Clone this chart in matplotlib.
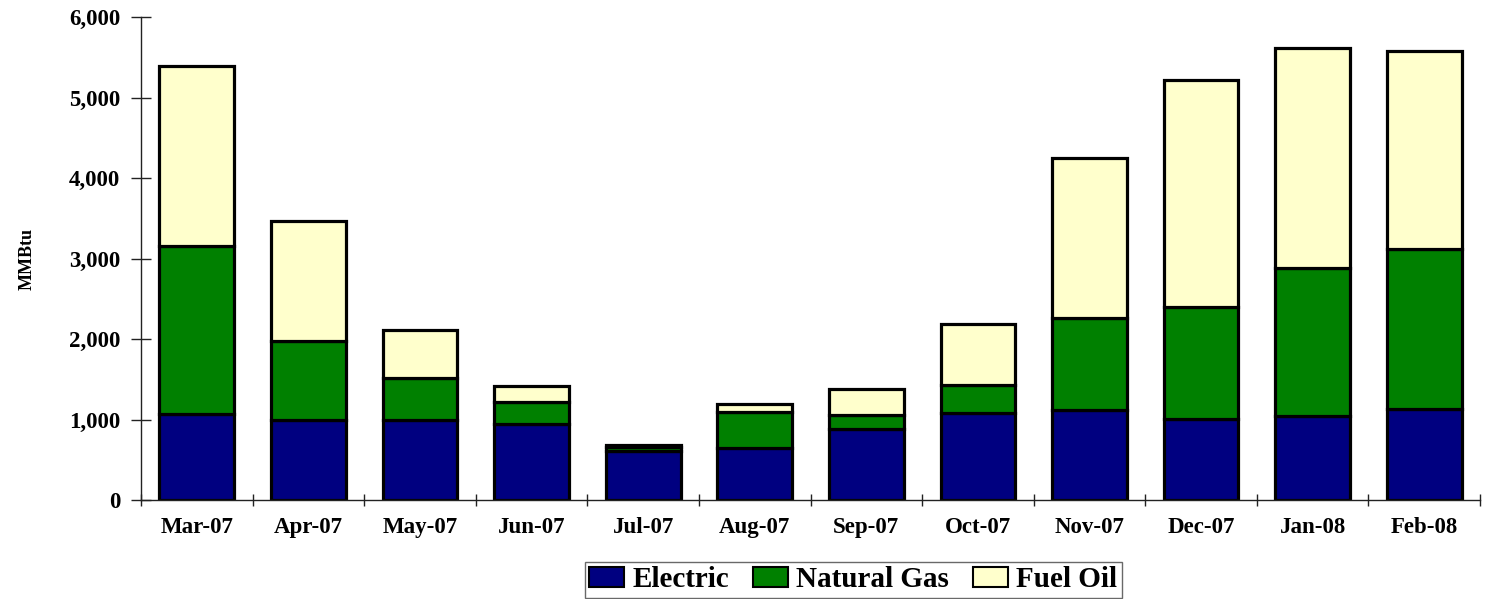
import matplotlib
matplotlib.use("Agg")
import matplotlib.pyplot as plt
from matplotlib.ticker import FuncFormatter, FixedLocator
import numpy as np

months = ["Mar-07", "Apr-07", "May-07", "Jun-07", "Jul-07", "Aug-07",
          "Sep-07", "Oct-07", "Nov-07", "Dec-07", "Jan-08", "Feb-08"]
electric = [1070, 995, 990, 948, 615, 650, 882, 1077, 1114, 1010, 1043, 1134]
natural_gas = [2085, 980, 526, 266, 45, 439, 174, 352, 1147, 1388, 1839, 1984]
fuel_oil = [2232, 1491, 592, 202, 25, 100, 329, 757, 1992, 2815, 2733, 2460]

serif = "Liberation Serif"

fig = plt.figure(figsize=(14.89, 5.99), dpi=100)
ax = fig.add_axes([0.0947, 0.165, 0.8993, 0.8066])

x = np.arange(len(months))
w = 0.67
e = np.array(electric)
g = np.array(natural_gas)
o = np.array(fuel_oil)
ax.bar(x, e, w, color="#000080", edgecolor="black", linewidth=2.3, label="Electric")
ax.bar(x, g, w, bottom=e, color="#008000", edgecolor="black", linewidth=2.3, label="Natural Gas")
ax.bar(x, o, w, bottom=e + g, color="#FFFFCC", edgecolor="black", linewidth=2.3, label="Fuel Oil")

ax.set_xlim(-0.5, len(months) - 0.5)
ax.set_ylim(0, 6000)
ax.set_yticks(range(0, 6001, 1000))
ax.yaxis.set_major_formatter(FuncFormatter(lambda v, p: f"{int(v):,}"))
ax.set_xticks(x)
ax.set_xticklabels(months)
ax.xaxis.set_minor_locator(FixedLocator(np.arange(-0.5, len(months), 1.0)))

for s in ["top", "right"]:
    ax.spines[s].set_visible(False)
for s in ["left", "bottom"]:
    ax.spines[s].set_linewidth(1.0)
    ax.spines[s].set_color("#222222")

ax.tick_params(axis="y", direction="inout", length=14, width=1, color="#222222", pad=8)
ax.tick_params(axis="x", which="major", length=0, pad=12)
ax.tick_params(axis="x", which="minor", direction="inout", length=9, width=1, color="#222222")

for lbl in ax.get_xticklabels() + ax.get_yticklabels():
    lbl.set_fontfamily(serif)
    lbl.set_fontweight("bold")
    lbl.set_fontsize(16.5)

ax.set_ylabel("MMBtu", fontfamily=serif, fontweight="bold", fontsize=13, labelpad=24)

leg = fig.legend(loc="center", bbox_to_anchor=(0.573, 0.032), ncol=3,
                 prop={"family": serif, "weight": "bold", "size": 21},
                 frameon=True, fancybox=False, edgecolor="#444444",
                 handlelength=1.2, handleheight=0.65, handletextpad=0.3,
                 columnspacing=0.8, borderpad=0.15, borderaxespad=0.2)
leg.get_frame().set_linewidth(1.0)
for h in leg.legend_handles:
    h.set_linewidth(1.5)

fig.savefig("out.png", dpi=100)
